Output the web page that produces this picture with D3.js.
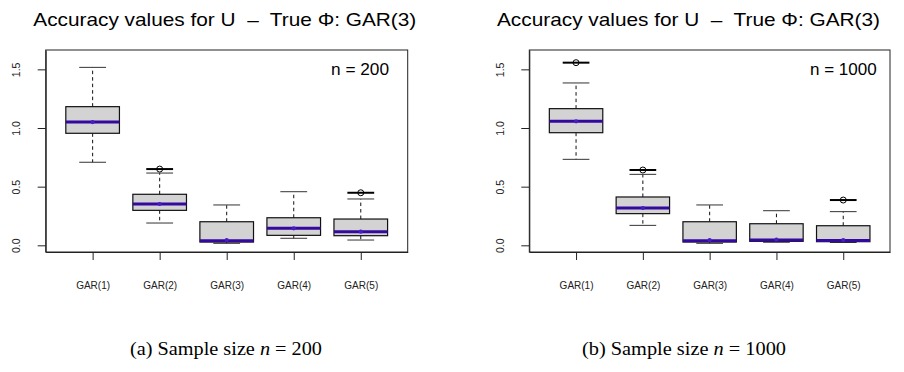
<!DOCTYPE html>
<html>
<head>
<meta charset="utf-8">
<script src="https://cdn.jsdelivr.net/npm/d3@7"></script>
<style>
  html, body { margin: 0; padding: 0; background: #fff; }
  svg { display: block; }
  .sans { font-family: 'Liberation Sans', Arial, Helvetica, sans-serif; }
  .serif { font-family: 'Liberation Serif', 'Times New Roman', serif; }
</style>
</head>
<body>
<svg id="chart" width="904" height="372"></svg>
<script>
const categories = ['GAR(1)', 'GAR(2)', 'GAR(3)', 'GAR(4)', 'GAR(5)'];
const yTicks = [0, 0.5, 1, 1.5];

// panel (a): n = 200
const lowA  = [0.708, 0.190, 0.017, 0.060, 0.045];
const q1A   = [0.955, 0.298, 0.028, 0.085, 0.082];
const medA  = [1.051, 0.352, 0.039, 0.145, 0.116];
const q3A   = [1.182, 0.435, 0.201, 0.235, 0.224];
const highA = [1.517, 0.616, 0.344, 0.457, 0.395];
const meanA = [1.051, 0.352, 0.045, 0.145, 0.116];
const outA  = [[], [0.650], [], [], [0.448]];

// panel (b): n = 1000
const lowB  = [0.733, 0.170, 0.017, 0.026, 0.024];
const q1B   = [0.960, 0.270, 0.028, 0.034, 0.031];
const medB  = [1.057, 0.318, 0.039, 0.045, 0.042];
const q3B   = [1.165, 0.412, 0.201, 0.184, 0.167];
const highB = [1.384, 0.605, 0.344, 0.295, 0.287];
const meanB = [1.057, 0.318, 0.045, 0.048, 0.045];
const outB  = [[1.557], [0.642], [], [], [0.386]];

const titleText = 'Accuracy values for U  \u2013  True \u03A6: GAR(3)';

const svg = d3.select('#chart');
svg.append('rect').attr('width', 904).attr('height', 372).attr('fill', '#fff');

function drawPanel(p, stats) {
  const x = d3.scaleLinear().domain([0.3, 5.7]).range([p.left, p.right]);
  const y = d3.scaleLinear().domain([-0.057, 1.665]).range([p.bottom, p.top]);
  const g = svg.append('g');

  // title
  g.append('text')
    .attr('class', 'sans')
    .attr('x', p.titleX).attr('y', 26)
    .attr('xml:space', 'preserve')
    .style('white-space', 'pre')
    .attr('textLength', 383).attr('lengthAdjust', 'spacingAndGlyphs')
    .style('font-size', '19px')
    .text(titleText);

  const boxes = g.selectAll('g.box')
    .data(categories.map((c, i) => ({
      i: i + 1,
      low: stats.low[i], q1: stats.q1[i], med: stats.med[i],
      q3: stats.q3[i], high: stats.high[i], mean: stats.mean[i], out: stats.out[i]
    })))
    .join('g').attr('class', 'box');

  // whiskers
  boxes.append('line')
    .attr('x1', d => x(d.i)).attr('x2', d => x(d.i))
    .attr('y1', d => y(d.q3)).attr('y2', d => y(d.high))
    .attr('stroke', '#111').attr('stroke-dasharray', '3.5,3');
  boxes.append('line')
    .attr('x1', d => x(d.i)).attr('x2', d => x(d.i))
    .attr('y1', d => y(d.q1)).attr('y2', d => y(d.low))
    .attr('stroke', '#111').attr('stroke-dasharray', '3.5,3');
  // staples
  ['low', 'high'].forEach(k => {
    boxes.append('line')
      .attr('x1', d => x(d.i - 0.2)).attr('x2', d => x(d.i + 0.2))
      .attr('y1', d => y(d[k])).attr('y2', d => y(d[k]))
      .attr('stroke', '#333');
  });

  boxes.append('rect')
    .attr('x', d => x(d.i - 0.4))
    .attr('width', d => x(d.i + 0.4) - x(d.i - 0.4))
    .attr('y', d => y(d.q3))
    .attr('height', d => y(d.q1) - y(d.q3))
    .attr('fill', '#d3d3d3').attr('stroke', '#111').attr('stroke-width', 1.2);

  boxes.append('line')
    .attr('x1', d => x(d.i - 0.4)).attr('x2', d => x(d.i + 0.4))
    .attr('y1', d => y(d.med)).attr('y2', d => y(d.med))
    .attr('stroke', '#34099e').attr('stroke-width', 3);

  boxes.append('circle')
    .attr('cx', d => x(d.i)).attr('cy', d => y(d.mean)).attr('r', 2.1)
    .attr('fill', '#4a1cc4');

  // outliers
  boxes.each(function (d) {
    const sel = d3.select(this);
    d.out.forEach(v => {
      sel.append('line')
        .attr('x1', x(d.i - 0.2)).attr('x2', x(d.i + 0.2))
        .attr('y1', y(v)).attr('y2', y(v))
        .attr('stroke', '#000').attr('stroke-width', 2);
      sel.append('circle')
        .attr('cx', x(d.i)).attr('cy', y(v)).attr('r', 3)
        .attr('fill', 'none').attr('stroke', '#000').attr('stroke-width', 1);
    });
  });

  // frame
  g.append('rect')
    .attr('x', p.left).attr('y', p.top)
    .attr('width', p.right - p.left).attr('height', p.bottom - p.top)
    .attr('fill', 'none').attr('stroke', '#222');

  // y axis
  const yAxis = g.append('g')
    .attr('transform', `translate(${p.left},0)`)
    .call(d3.axisLeft(y).tickValues(yTicks).tickSize(8).tickSizeOuter(0).tickFormat(d3.format('.1f')));
  yAxis.select('.domain').attr('stroke', '#222');
  yAxis.selectAll('.tick line').attr('stroke', '#222');
  yAxis.selectAll('.tick text')
    .attr('class', 'sans')
    .attr('x', 0).attr('dy', 0)
    .attr('text-anchor', 'middle')
    .attr('transform', `translate(${p.labelX - p.left},0) rotate(-90)`)
    .attr('fill', '#222')
    .style('font-size', '10.5px');

  // x axis
  const xAxis = g.append('g')
    .attr('transform', `translate(0,${p.bottom})`)
    .call(d3.axisBottom(x).tickValues([1, 2, 3, 4, 5]).tickSize(8).tickSizeOuter(0)
      .tickFormat(i => categories[i - 1]));
  xAxis.select('.domain').attr('stroke', '#222');
  xAxis.selectAll('.tick line').attr('stroke', '#222');
  xAxis.selectAll('.tick text')
    .attr('class', 'sans')
    .attr('y', 37).attr('dy', 0)
    .attr('fill', '#222')
    .style('font-size', '10px');
  yAxis.attr('font-family', null);
  xAxis.attr('font-family', null);

  // n label
  g.append('text')
    .attr('class', 'sans')
    .attr('x', p.nX).attr('y', 75)
    .attr('textLength', p.nLen).attr('lengthAdjust', 'spacingAndGlyphs')
    .style('font-size', '16px')
    .text(p.nLabel);

  // caption
  const cap = g.append('text')
    .attr('class', 'serif')
    .attr('x', p.capX).attr('y', 355)
    .attr('textLength', p.capLen).attr('lengthAdjust', 'spacingAndGlyphs')
    .style('font-size', '18px');
  cap.append('tspan').text(p.capPre + ' Sample size ');
  cap.append('tspan').style('font-style', 'italic').text('n');
  cap.append('tspan').text(' = ' + p.capN);
}

drawPanel(
  { left: 45.7, right: 407.7, top: 50, bottom: 252, labelX: 20, titleX: 33.3,
    nX: 331, nLen: 58, nLabel: 'n = 200', capX: 130, capLen: 192, capPre: '(a)', capN: '200' },
  { low: lowA, q1: q1A, med: medA, q3: q3A, high: highA, mean: meanA, out: outA }
);
drawPanel(
  { left: 529.3, right: 890, top: 50, bottom: 252, labelX: 504, titleX: 497,
    nX: 810, nLen: 66.7, nLabel: 'n = 1000', capX: 582, capLen: 204, capPre: '(b)', capN: '1000' },
  { low: lowB, q1: q1B, med: medB, q3: q3B, high: highB, mean: meanB, out: outB }
);
</script>
</body>
</html>
